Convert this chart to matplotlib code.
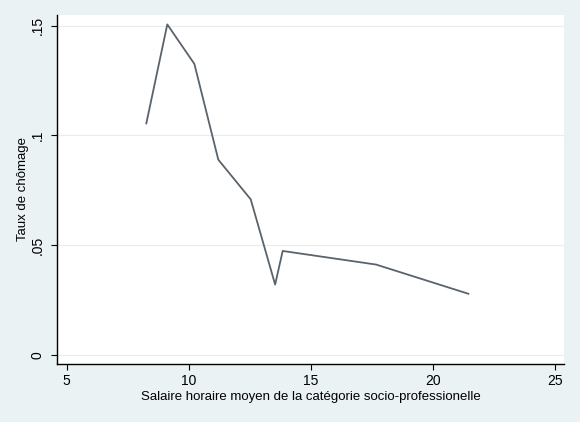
import matplotlib
matplotlib.use("Agg")
import matplotlib.pyplot as plt

# salaire horaire moyen / taux de chomage par CSP
salaire = [8.26, 9.12, 10.23, 11.21, 12.54, 13.54, 13.85, 17.68, 21.46]
chomage = [0.1055, 0.1506, 0.1326, 0.0890, 0.0709, 0.0321, 0.0474, 0.0412, 0.0279]

x_ticks = [5, 10, 15, 20, 25]
y_ticks = [0, 0.05, 0.10, 0.15]
y_labels = ["0", ".05", ".1", ".15"]

plt.rcParams['font.family'] = ['Liberation Sans', 'DejaVu Sans']

fig = plt.figure(figsize=(5.8, 4.22), dpi=100, facecolor='#eaf2f3')
ax = fig.add_axes([0.0983, 0.1374, 0.8737, 0.8271])
ax.set_facecolor('white')

ax.plot(salaire, chomage, color='#5a636b', linewidth=1.3)

ax.set_xlim(4.6, 25.37)
ax.set_ylim(-0.0041, 0.1549)
ax.set_xticks(x_ticks)
ax.set_yticks(y_ticks)
ax.set_yticklabels(y_labels, rotation=90, va='center')
ax.yaxis.grid(True, color='#ebebeb', linewidth=0.8)
ax.set_axisbelow(True)

for side in ['top', 'right']:
    ax.spines[side].set_visible(False)
for side in ['left', 'bottom']:
    ax.spines[side].set_color('black')
    ax.spines[side].set_linewidth(1.0)

ax.tick_params(direction='out', length=4, width=0.8, labelsize=10, colors='black', pad=3)
ax.tick_params(axis='y', pad=5)
ax.set_xlabel("Salaire horaire moyen de la catégorie socio-professionelle", fontsize=9.5, labelpad=2)
ax.set_ylabel("Taux de chômage", fontsize=9.5, labelpad=1)

fig.savefig("out.png", dpi=100, facecolor=fig.get_facecolor())
